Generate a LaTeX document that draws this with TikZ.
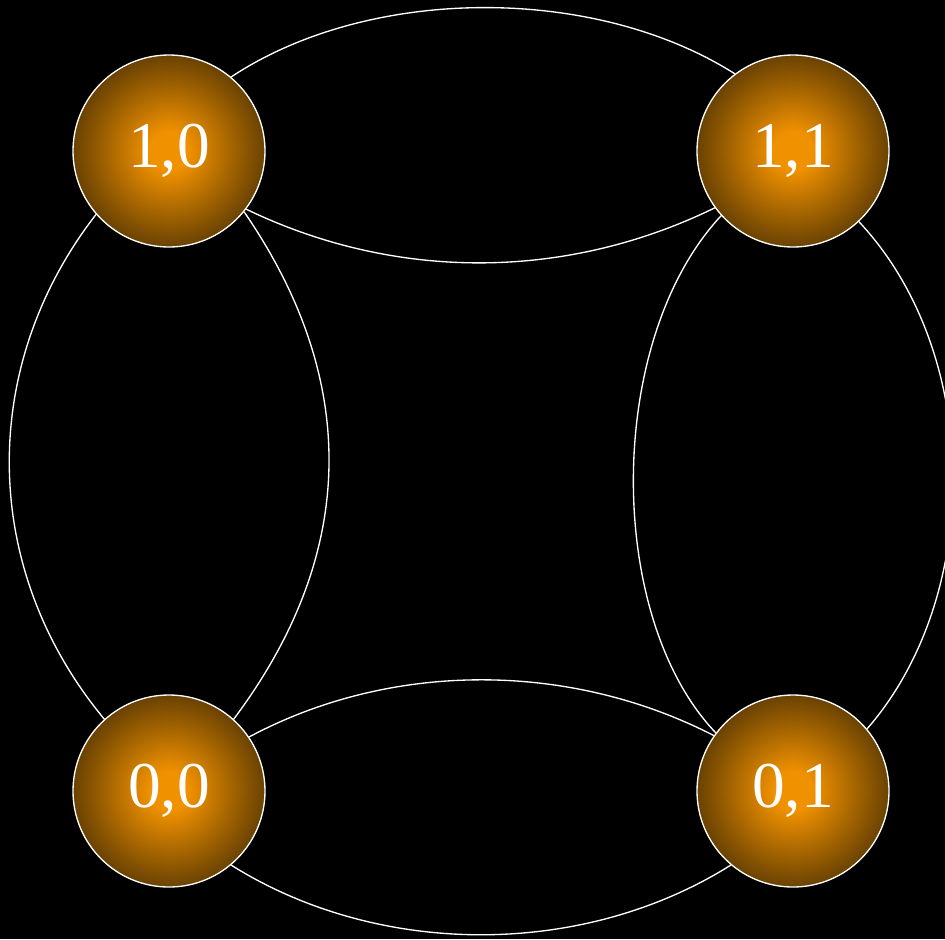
\documentclass[tikz,border=0pt]{standalone}
\usepackage{fontspec}
\setmainfont{Liberation Serif}
\usepackage{tikz}
\usetikzlibrary{shapes, positioning, calc}

\definecolor{statecore}{RGB}{240,145,0}
\definecolor{staterim}{RGB}{106,66,2}
\pgfdeclareradialshading{statefill}{\pgfpoint{0bp}{0bp}}{%
  color(0bp)=(statecore); color(5bp)=(statecore); color(25bp)=(staterim); color(50bp)=(staterim)}

\begin{document}
\begin{tikzpicture}[
  x=0.75pt, y=-0.75pt,
  state/.style={draw=white, line width=1pt, circle, inner sep=0pt, minimum size=144pt,
    shading=statefill, text=white, font=\fontsize{49}{53}\selectfont},
  edge/.style={draw=white, line width=1pt}
]
  % Background
  \fill[black] (0,0) rectangle (945,939);
  \useasboundingbox (0,0) rectangle (945,939);

  % States
  \node[state] (s10) at (169,151) {1,0};
  \node[state] (s11) at (793,151) {1,1};
  \node[state] (s00) at (169,791) {0,0};
  \node[state] (s01) at (793,791) {0,1};

  % Top pair
  \draw[edge] (s10.50) .. controls (370,-15) and (595,-15) .. (s11.127);
  \draw[edge] (s10.-37) .. controls (395,281) and (565,281) .. (s11.-144);

  % Left pair
  \draw[edge] (s10.-139) .. controls (-21,365) and (-21,568) .. (s00.132);
  \draw[edge] (s10.-39) .. controls (359,379) and (359,552) .. (s00.48);

  % Right pair
  \draw[edge] (s11.-138) .. controls (605,340) and (605,617) .. (s01.143);
  \draw[edge] (s11.-47) .. controls (983,354) and (983,596) .. (s01.40);

  % Bottom pair
  \draw[edge] (s00.34) .. controls (391,661) and (569,661) .. (s01.145);
  \draw[edge] (s00.-50) .. controls (379,958) and (583,958) .. (s01.-130);
\end{tikzpicture}
\end{document}
